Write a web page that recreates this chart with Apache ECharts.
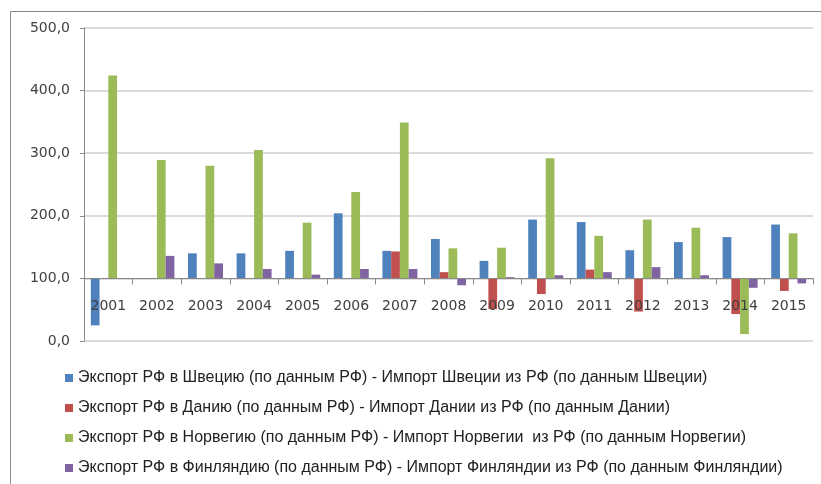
<!DOCTYPE html>
<html><head><meta charset="utf-8">
<script src="https://cdn.jsdelivr.net/npm/echarts@6/dist/echarts.min.js"></script>
<style>html,body{margin:0;padding:0;background:#fff}#c{width:821px;height:484px}</style>
</head><body><div id="c"></div>
<script>
const categories = ['2001','2002','2003','2004','2005','2006','2007','2008','2009','2010','2011','2012','2013','2014','2015'];
const sweden  = [25, 100, 140, 140, 144, 204, 144, 163, 128, 194, 190, 145, 158, 166, 186];
const denmark = [100, 100, 100, 100, 100, 100, 143, 110, 51, 75, 114, 47, 99, 43, 80];
const norway  = [424, 289, 280, 305, 189, 238, 349, 148, 149, 292, 168, 194, 181, 11, 172];
const finland = [100, 136, 124, 115, 106, 115, 115, 89, 102, 105, 110, 118, 105, 85, 92];
const seriesNames = [
  'Экспорт РФ в Швецию (по данным РФ) - Импорт Швеции из РФ (по данным Швеции)',
  'Экспорт РФ в Данию (по данным РФ) - Импорт Дании из РФ (по данным Дании)',
  'Экспорт РФ в Норвегию (по данным РФ) - Импорт Норвегии  из РФ (по данным Норвегии)',
  'Экспорт РФ в Финляндию (по данным РФ) - Импорт Финляндии из РФ (по данным Финляндии)'
];
const baseLine = 100;
const yMin = 0, yMax = 500, yStep = 100;

const colors = ['#4F81BD', '#C0504D', '#9BBB59', '#8064A2'];
const allData = [sweden, denmark, norway, finland];

const chart = echarts.init(document.getElementById('c'), null, {renderer: 'canvas'});
chart.setOption({
  animation: false,
  color: colors,
  graphic: [{
    type: 'rect', left: 8, top: 9, silent: true,
    shape: {width: 900, height: 600},
    style: {fill: 'none', stroke: '#8a8a8a', lineWidth: 1}
  }],
  grid: {left: 84, right: 8, top: 28, bottom: 143, containLabel: false},
  legend: {
    orient: 'vertical', left: 60, top: 365, itemGap: 14,
    itemWidth: 8, itemHeight: 8, icon: 'rect',
    textStyle: {fontFamily: 'Liberation Sans', fontSize: 16, color: '#222'},
    data: seriesNames
  },
  xAxis: {
    type: 'category', data: categories, z: 5,
    axisLine: {onZero: true, lineStyle: {color: '#8a8a8a', width: 1}},
    axisTick: {show: true, length: 6, lineStyle: {color: '#8a8a8a'}},
    axisLabel: {margin: -42, color: '#404040', fontFamily: 'DejaVu Sans', fontSize: 14, interval: 0}
  },
  yAxis: {
    type: 'value', min: yMin - baseLine, max: yMax - baseLine, interval: yStep,
    axisLine: {show: true, lineStyle: {color: '#8a8a8a'}},
    axisTick: {show: true, length: 4, lineStyle: {color: '#8a8a8a'}},
    splitLine: {lineStyle: {color: '#cfcfcf', width: 1.5}},
    axisLabel: {margin: 14, color: '#404040', fontFamily: 'DejaVu Sans', fontSize: 14,
      formatter: v => (v + baseLine).toFixed(1).replace('.', ',')}
  },
  series: allData.map((arr, i) => ({
    name: seriesNames[i], type: 'bar',
    barGap: '0%', barCategoryGap: '28%',
    data: arr.map(v => v - baseLine)
  }))
});
</script></body></html>
